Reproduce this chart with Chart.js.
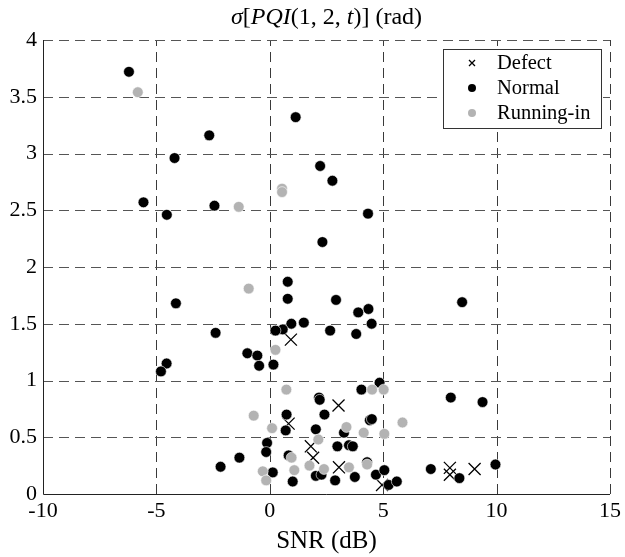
<!DOCTYPE html>
<html><head><meta charset="utf-8">
<script src="https://cdn.jsdelivr.net/npm/chart.js@4"></script>
<style>html,body{margin:0;padding:0;background:#fff}#wrap{width:625px;height:557px}</style>
</head><body><div id="wrap"><canvas id="c" width="625" height="557"></canvas></div>
<script>
const xTicks = [-10, -5, 0, 5, 10, 15];
const yTicks = [0, 0.5, 1, 1.5, 2, 2.5, 3, 3.5, 4];
const seriesNames = ['Defect', 'Normal', 'Running-in'];

const defectSNR   = [0.93, 0.83, 1.81, 1.91, 3.03, 3.05, 4.95, 7.94, 7.94, 9.03];
const defectSigma = [1.36, 0.62, 0.42, 0.32, 0.78, 0.235, 0.08, 0.23, 0.17, 0.22];

const normalSNR = [-6.21, 1.14, -2.67, -4.2, 2.22, 2.76, -5.57, -2.44, -4.54, 4.33, 2.32,
  0.79, 0.79, 2.92, -4.14, 8.48, 4.35, 3.9, 0.95, 1.5, 4.49, 0.57, 0.25, 2.66, -2.39, 3.81,
  -0.99, -0.55, -0.47, 0.16, -4.55, -4.8,
  4.84, 4.04, 2.17, 2.2, 7.98, 9.38,
  0.74, 2.41, 4.41, 4.5, 0.70, 2.03, 3.27, -0.12, -0.16, 2.98, 3.49, 3.66,
  0.83, -1.34, -2.17, 2.03, 2.28, 0.13, 1.01, 2.88, 3.75, 4.29, 4.68, 5.05, 5.24, 5.6, 7.1, 8.36, 9.95];
const normalSigma = [3.72, 3.32, 3.16, 2.96, 2.89, 2.76, 2.57, 2.54, 2.46, 2.47, 2.22,
  1.87, 1.72, 1.71, 1.68, 1.69, 1.63, 1.60, 1.50, 1.51, 1.50, 1.45, 1.44, 1.44, 1.42, 1.41,
  1.24, 1.22, 1.13, 1.14, 1.15, 1.08,
  0.98, 0.92, 0.85, 0.83, 0.85, 0.81,
  0.70, 0.70, 0.65, 0.66, 0.56, 0.57, 0.54, 0.45, 0.37, 0.42, 0.43, 0.42,
  0.34, 0.32, 0.24, 0.16, 0.17, 0.19, 0.11, 0.12, 0.15, 0.28, 0.17, 0.21, 0.08, 0.11, 0.22, 0.14, 0.26];

const runningSNR = [-5.82, 0.54, 0.54, -1.37, -0.93, 0.25, 0.73, 4.51, 5.02, -0.71, 0.10, 2.14,
  0.96, 1.75, 2.39, -0.31, -0.16, 1.08, 5.85, 3.38, 4.14, 5.05, 3.49, 4.29];
const runningSigma = [3.54, 2.69, 2.66, 2.53, 1.81, 1.27, 0.92, 0.92, 0.92, 0.69, 0.58, 0.48,
  0.32, 0.25, 0.22, 0.20, 0.12, 0.21, 0.63, 0.59, 0.54, 0.53, 0.235, 0.26];

const pts = (xs, ys) => xs.map((x, i) => ({x: x, y: ys[i]}));
const FONT = "'Liberation Serif', 'DejaVu Serif', serif";
const GRAY = '#b3b3b3';

const framePlugin = {
  id: 'frame',
  beforeDatasetsDraw(chart) {
    const ctx = chart.ctx, xs = chart.scales.x, ys = chart.scales.y, a = chart.chartArea;
    ctx.save();
    ctx.lineWidth = 1;
    ctx.setLineDash([10, 6]);
    ctx.strokeStyle = '#3a3a3a';
    xTicks.forEach(v => {
      const p = Math.round(xs.getPixelForValue(v)) + 0.5;
      if (v === xTicks[0]) return;
      ctx.beginPath(); ctx.moveTo(p, a.bottom); ctx.lineTo(p, a.top); ctx.stroke();
    });
    ctx.strokeStyle = '#555';
    yTicks.forEach(v => {
      const p = Math.round(ys.getPixelForValue(v)) + 0.5;
      if (v === yTicks[0]) return;
      ctx.beginPath(); ctx.moveTo(a.left, p); ctx.lineTo(a.right, p); ctx.stroke();
    });
    ctx.setLineDash([]);
    ctx.strokeStyle = '#222';
    const L = Math.round(a.left) + 0.5, B = Math.round(a.bottom) + 0.5;
    ctx.beginPath(); ctx.moveTo(L, a.top); ctx.lineTo(L, B); ctx.lineTo(a.right, B); ctx.stroke();
    ctx.restore();
  },
  afterDatasetsDraw(chart) {
    const ctx = chart.ctx;
    ctx.save();
    // title with mixed italics
    const segs = [['σ', 1], ['[', 0], ['PQI', 1], ['(1, 2, ', 0], ['t', 1], [')] (rad)', 0]];
    const size = 24;
    let total = 0;
    segs.forEach(s => { ctx.font = (s[1] ? 'italic ' : '') + size + 'px ' + FONT; total += ctx.measureText(s[0]).width; });
    let x = (chart.chartArea.left + chart.chartArea.right) / 2 - total / 2;
    ctx.fillStyle = '#000'; ctx.textBaseline = 'alphabetic'; ctx.textAlign = 'left';
    segs.forEach(s => { ctx.font = (s[1] ? 'italic ' : '') + size + 'px ' + FONT; ctx.fillText(s[0], x, 24); x += ctx.measureText(s[0]).width; });
    // legend
    const bx = 443.5, by = 49.5, bw = 158, bh = 79;
    ctx.fillStyle = '#fff'; ctx.fillRect(bx, by, bw, bh);
    ctx.strokeStyle = '#333'; ctx.lineWidth = 1; ctx.strokeRect(bx, by, bw, bh);
    const rows = [63, 88, 113];
    ctx.font = '20.5px ' + FONT; ctx.textBaseline = 'middle';
    seriesNames.forEach((n, i) => {
      const cy = rows[i], cx = 472;
      if (i === 0) {
        ctx.strokeStyle = '#000'; ctx.lineWidth = 1.3;
        ctx.beginPath(); ctx.moveTo(cx - 3, cy - 3); ctx.lineTo(cx + 3, cy + 3);
        ctx.moveTo(cx - 3, cy + 3); ctx.lineTo(cx + 3, cy - 3); ctx.stroke();
      } else {
        ctx.fillStyle = i === 1 ? '#000' : GRAY;
        ctx.beginPath(); ctx.arc(cx, cy, 4, 0, Math.PI * 2); ctx.fill();
      }
      ctx.fillStyle = '#000';
      ctx.fillText(n, 497, cy + 1);
    });
    ctx.restore();
  }
};

new Chart(document.getElementById('c'), {
  type: 'scatter',
  data: {
    datasets: [
      {label: seriesNames[0], data: pts(defectSNR, defectSigma), order: 3,
       pointStyle: 'crossRot', pointRadius: 8.5, borderColor: '#000', backgroundColor: '#000', pointBorderWidth: 1.3},
      {label: seriesNames[1], data: pts(normalSNR, normalSigma), order: 2,
       pointStyle: 'circle', pointRadius: 5.4, backgroundColor: '#000', borderColor: '#fff', pointBorderWidth: 0.6},
      {label: seriesNames[2], data: pts(runningSNR, runningSigma), order: 1,
       pointStyle: 'circle', pointRadius: 5.4, backgroundColor: GRAY, borderColor: '#fff', pointBorderWidth: 0.6}
    ]
  },
  options: {
    responsive: false, animation: false, devicePixelRatio: 1,
    layout: {padding: {top: 40, right: 11, left: 0, bottom: 0}},
    plugins: {legend: {display: false}, tooltip: {enabled: false}, title: {display: false}},
    scales: {
      x: {
        type: 'linear', min: -10, max: 15,
        afterBuildTicks: s => { s.ticks = xTicks.map(v => ({value: v})); },
        afterFit: s => { s.height = 63; },
        grid: {display: false, drawTicks: false}, border: {display: false},
        ticks: {color: '#000', padding: 4, font: {family: FONT, size: 22}, maxRotation: 0,
                callback: v => String(v)},
        title: {display: true, text: 'SNR (dB)', color: '#000', font: {family: FONT, size: 25}, padding: {top: 0, bottom: 1}}
      },
      y: {
        type: 'linear', min: 0, max: 4,
        afterBuildTicks: s => { s.ticks = yTicks.map(v => ({value: v})); },
        afterFit: s => { s.width = 43; },
        grid: {display: false, drawTicks: false}, border: {display: false},
        ticks: {color: '#000', padding: 6, font: {family: FONT, size: 22}, callback: v => String(v)}
      }
    }
  },
  plugins: [framePlugin]
});
</script>
</body></html>
